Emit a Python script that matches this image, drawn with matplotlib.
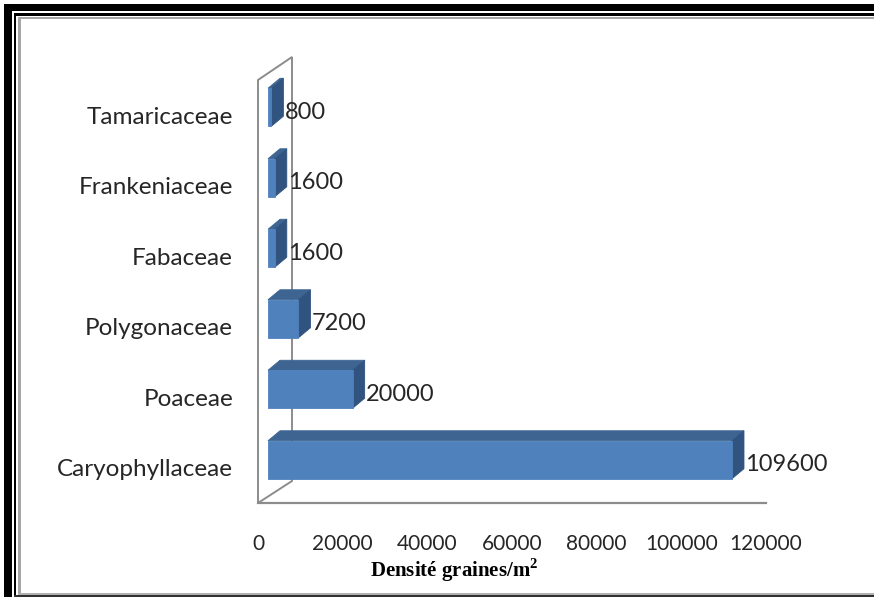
import matplotlib
matplotlib.use("Agg")
import matplotlib.pyplot as plt
from matplotlib.patches import Polygon, Rectangle
from matplotlib.transforms import IdentityTransform

# Seed bank density per plant family (seeds / m2)
categories = ["Caryophyllaceae", "Poaceae", "Polygonaceae", "Fabaceae",
              "Frankeniaceae", "Tamaricaceae"]
densities = [109600, 20000, 7200, 1600, 1600, 800]
x_ticks = [0, 20000, 40000, 60000, 80000, 100000, 120000]

plt.rcParams["mathtext.fontset"] = "custom"
plt.rcParams["mathtext.bf"] = "Liberation Serif:bold"
plt.rcParams["mathtext.rm"] = "Liberation Serif:bold"

W, H = 874, 597
fig = plt.figure(figsize=(W / 100, H / 100), dpi=100)
fig.patch.set_facecolor("white")
ID = IdentityTransform()

FONT = ["Lato", "DejaVu Sans"]
TXT = "#262626"

ax = fig.add_axes([258 / W, 1 - 503 / H, 508 / W, 423 / H])
ax.set_xlim(0, 120000)
ax.set_ylim(-0.5, len(categories) - 0.5)
for s in ax.spines.values():
    s.set_visible(False)
ax.patch.set_visible(False)

ax.set_xticks(x_ticks)
ax.set_xticklabels([str(t) for t in x_ticks], family=FONT)
ax.tick_params(axis="x", length=0, pad=22, labelsize=15, labelcolor=TXT)
ax.set_yticks(range(len(categories)))
ax.set_yticklabels(categories, family=FONT)
ax.tick_params(axis="y", length=0, pad=18, labelsize=17.5, labelcolor=TXT)

# 3-D side wall and floor edge
WALL_DX, WALL_DY = 34, 22
bl = ax.transAxes.transform((0, 0))
tl = ax.transAxes.transform((0, 1))
wall = [tuple(bl), tuple(tl), (tl[0] + WALL_DX, tl[1] + WALL_DY + 1),
        (bl[0] + WALL_DX, bl[1] + WALL_DY)]
ax.add_patch(Polygon(wall, closed=True, facecolor="white", edgecolor="#8c8c8c",
                     lw=1.4, transform=ID, clip_on=False, zorder=1))
ax.plot([0, 1], [0, 0], transform=ax.transAxes, color="#8c8c8c", lw=1.6,
        clip_on=False, zorder=1)

# 3-D bars
FRONT_DX, FRONT_DY = 10, 8     # bar front face shift into depth (px)
DEPTH_DX, DEPTH_DY = 12, 10    # bar thickness in depth (px)
HALF_H = 19
C_FRONT, C_TOP, C_SIDE = "#4f81bd", "#3e6592", "#30537f"

for i, v in enumerate(densities):
    x0, yc = ax.transData.transform((0, i))
    x1, _ = ax.transData.transform((v, i))
    L, R = x0 + FRONT_DX, x1 + FRONT_DX
    B, T = yc + FRONT_DY - HALF_H, yc + FRONT_DY + HALF_H
    front = [(L, B), (R, B), (R, T), (L, T)]
    top = [(L, T), (R, T), (R + DEPTH_DX, T + DEPTH_DY), (L + DEPTH_DX, T + DEPTH_DY)]
    side = [(R, B), (R + DEPTH_DX, B + DEPTH_DY), (R + DEPTH_DX, T + DEPTH_DY), (R, T)]
    for pts, col in ((top, C_TOP), (side, C_SIDE), (front, C_FRONT)):
        ax.add_patch(Polygon(pts, closed=True, facecolor=col, edgecolor=col,
                             lw=0.6, transform=ID, clip_on=False, zorder=3))
    ax.annotate(str(v), xy=(v, i), xytext=(FRONT_DX + DEPTH_DX + 1, 3),
                textcoords="offset pixels", ha="left", va="center",
                fontsize=17, color=TXT, family=FONT, zorder=4)

# axis title
fig.text(454 / W, 1 - 570 / H, r"Densité graines/m$^{\mathbf{2}}$", ha="center",
         va="center", family="Liberation Serif", weight="bold", fontsize=15,
         color="black")


# frame around the chart
def band(x0, y0, x1, y1, color):
    fig.add_artist(Rectangle((x0, H - y1), x1 - x0, y1 - y0, transform=ID,
                             facecolor=color, edgecolor="none", zorder=10))


band(4, 4, W, 11, "black")
band(4, 4, 12, H, "black")
band(14, 13, W, 16, "black")
band(14, 13, 16, H, "black")
band(18, 17, W, 19, "#a6a6a6")
band(18, 17, 21, 594, "#a6a6a6")
band(18, 593, W, 595, "#b0b0b0")
band(14, 595, W, H, "#303030")

fig.savefig("out.png", dpi=100, facecolor="white")
